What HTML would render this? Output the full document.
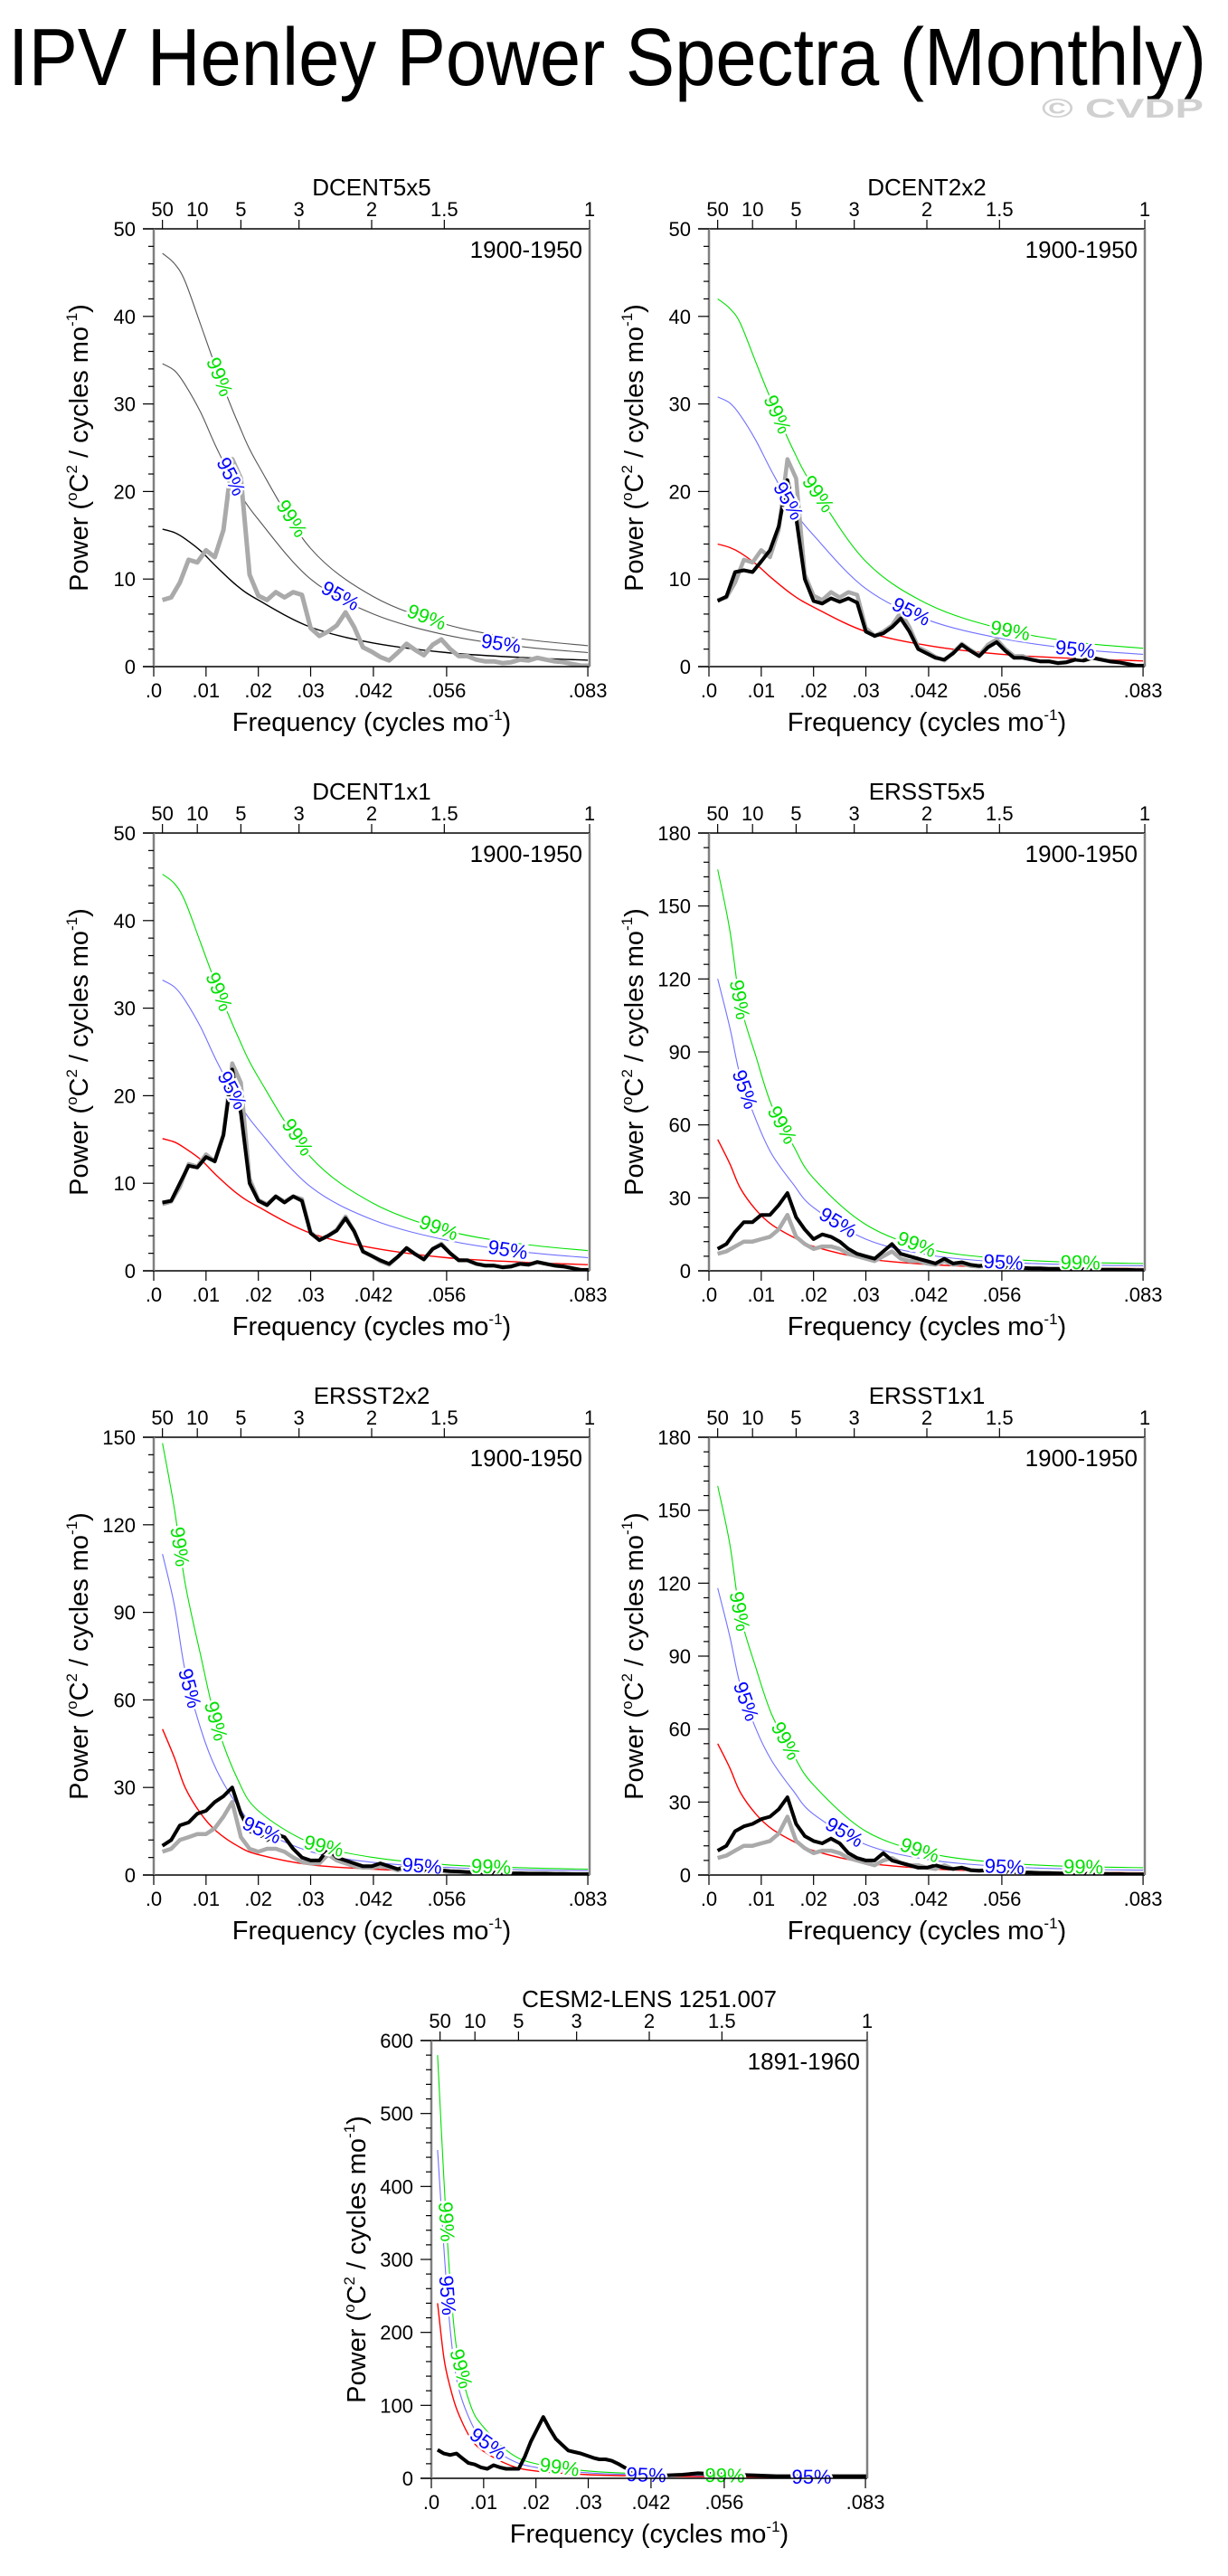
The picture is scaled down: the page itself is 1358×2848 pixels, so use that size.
<!DOCTYPE html>
<html><head><meta charset="utf-8"><title>IPV Henley Power Spectra (Monthly)</title>
<style>html,body{margin:0;padding:0;background:#fff}svg{display:block}text{font-family:"Liberation Sans",sans-serif}</style>
</head><body>
<svg id="fig" xmlns="http://www.w3.org/2000/svg" width="1358" height="2848" viewBox="0 0 1358 2848">
<rect width="1358" height="2848" fill="#fff"/>
<text x="9" y="94" font-size="90" textLength="1325" lengthAdjust="spacingAndGlyphs">IPV Henley Power Spectra (Monthly)</text>
<text x="1152" y="130" font-size="30" font-weight="bold" fill="#d0d0d0" textLength="179" lengthAdjust="spacingAndGlyphs">© CVDP</text>
</svg>
<script>
// ---- shared ----
const curveFreq = [0.00167,0.004,0.006,0.009,0.012,0.016,0.02,0.03,0.042,0.056,0.07,0.083];
const bottomTickVals = [0,0.01,0.02,0.03,0.042,0.056,0.083];
const bottomTickLabels = [".0",".01",".02",".03",".042",".056",".083"];
const topPeriods = [50,10,5,3,2,1.5,1];
const topPeriodLabels = ["50","10","5","3","2","1.5","1"];
const specStep = 1/600;
// ---- panel 1 DCENT5x5 ----
const p1Red = [15.7,15.3,14.6,13.2,11.4,9.2,7.6,4.5,2.7,1.6,1.05,0.73];
const p1C95 = [34.6,33.8,32.2,29,25,20.3,16.8,10,6,3.6,2.3,1.6];
const p1C99 = [47.2,46,44,39,34,28,23,13.5,8,4.8,3.2,2.4];
const p1Grey = [7.6,7.9,9.6,12.2,11.9,13.3,12.5,15.6,23.7,21.5,10.5,8.1,7.6,8.5,7.9,8.5,8.2,4.4,3.5,4.0,4.7,6.2,4.5,2.2,1.7,1.1,0.7,1.6,2.6,1.9,1.3,2.5,3.1,2.0,1.2,1.2,0.8,0.6,0.6,0.4,0.5,0.8,0.7,1.0,0.8,0.6,0.5,0.3,0.1,0.1];
const p1Black = [];
// ---- panel 2 DCENT2x2 ----
const p2Red = [14,13.6,13,11.7,10.1,8.2,6.8,4,2.4,1.4,0.93,0.65];
const p2C95 = [30.8,30.1,28.7,25.8,22.3,18.1,15,8.9,5.3,3.2,2.0,1.4];
const p2C99 = [42,40.9,39.2,34.7,30.3,24.9,20.5,12,7.1,4.3,2.8,2.1];
const p2Grey = p1Grey;
const p2Black = [7.5,8,10.8,11,10.8,12,13.3,16,21.3,17,10,7.5,7.2,7.8,7.4,7.8,7.3,4,3.5,3.8,4.5,5.5,4,2,1.5,1,0.8,1.5,2.5,1.8,1.2,2.2,2.8,1.8,1,1,0.8,0.6,0.6,0.4,0.5,0.8,0.7,1,0.8,0.6,0.5,0.3,0.1,0.1];
// ---- panel 3 DCENT1x1 ----
const p3Red = [15.1,14.7,14,12.7,10.9,8.8,7.3,4.3,2.6,1.5,1,0.7];
const p3C95 = [33.2,32.4,30.9,27.8,24,19.5,16.1,9.6,5.8,3.5,2.2,1.5];
const p3C99 = [45.3,44.2,42.2,37.4,32.6,26.9,22.1,13,7.7,4.6,3.1,2.3];
const p3Grey = p1Grey;
const p3Black = [7.8,8,10,12,11.8,13,12.5,15.5,23,18,10,8,7.5,8.5,7.8,8.5,8,4.3,3.5,4,4.6,6,4.5,2.2,1.7,1.2,0.8,1.6,2.6,1.9,1.3,2.5,3,2,1.2,1.2,0.8,0.6,0.6,0.4,0.5,0.8,0.7,1,0.8,0.6,0.5,0.3,0.1,0.1];
// ---- panel 4 ERSST5x5 ----
const p4Red = [54,44,34,25,19,14,10,5,2.6,1.5,1.1,0.9];
const p4C95 = [120,100,80,62,48,36,26,13,6.5,3.6,2.5,2.1];
const p4C99 = [165,140,110,88,68,52,38,19,9,5,3.5,3];
const p4Grey = [7,8,10,12,12,13,14,17,23,14,11,9,10,10,9,7,6,5,4,6,8,5,4,4,3,2.5,4,2.5,3,2,1.8,2,1.6,1.2,1.2,1,0.9,0.8,0.7,0.7,0.6,0.5,0.5,0.4,0.4,0.4,0.3,0.3,0.3,0.2];
const p4Black = [9,11,16,20,20,23,23,27,32,22,17,13,15,14,12,9,7,6,5,8,11,7,6,5,4,3,5,3,3.5,2.5,2,2.5,2,1.5,1.5,1.2,1,1,0.8,0.8,0.7,0.6,0.6,0.5,0.5,0.5,0.4,0.4,0.3,0.3];
// ---- panel 5 ERSST2x2 ----
const p5Red = [50,40,30,21,15,10,7,3.5,2,1.2,0.8,0.7];
const p5C95 = [110,92,70,50,36,24,16,8,4.3,2.6,1.8,1.5];
const p5C99 = [148,125,100,75,52,33,22,11,6,3.5,2.5,2];
const p5Grey = [8,9,12,13,14,14,16,20,25,13,9,8,9,9,8,6,4.5,4,4,7,5,4,3,2.5,2.5,3,2.5,1.6,2.5,1.6,1.5,1.6,1.3,1,1,0.8,0.8,0.7,0.6,0.6,0.5,0.5,0.4,0.4,0.4,0.3,0.3,0.3,0.2,0.2];
const p5Black = [10,12,17,18,21,22,25,27,30,21,15,14,12,14,13,9,6,5,5,9,6,5,4,3,3,4,3,2,3,2,1.8,2,1.6,1.3,1.2,1,1,0.8,0.8,0.7,0.6,0.6,0.5,0.5,0.5,0.4,0.4,0.3,0.3,0.3];
// ---- panel 6 ERSST1x1 ----
const p6Red = [54,44,34,25,19,14,10,5,2.6,1.5,1.1,0.9];
const p6C95 = [118,98,78,60,47,35,25,12.5,6.3,3.5,2.4,2.0];
const p6C99 = [160,136,107,85,66,50,37,18,9,5,3.5,3];
const p6Grey = [7,8,10,12,12,13,14,17,24,14,11,9,10,10,9,7,6,5,4,6,7,5,4,4,3,2.5,4,2.5,3,2,1.8,2,1.6,1.2,1.2,1,0.9,0.8,0.7,0.7,0.6,0.5,0.5,0.4,0.4,0.4,0.3,0.3,0.3,0.2];
const p6Black = [10,12,18,20,21,23,24,27,32,21,16,14,13,15,13,9,7,6,6,9,6,5,4,3,3,4,3,2.5,3,2,1.8,2,1.6,1.3,1.2,1,1,0.8,0.8,0.7,0.6,0.6,0.5,0.5,0.5,0.4,0.4,0.3,0.3,0.3];
// ---- panel 7 CESM2-LENS ----
const p7CurveFreq = [0.0012,0.0024,0.0036,0.005,0.0075,0.01,0.015,0.02,0.03,0.042,0.056,0.07,0.083];
const p7Red = [240,165,125,92,55,37,18,10,5,3,2,1.4,1.2];
const p7C95 = [450,315,205,130,78,52,26,15,7.5,4.5,3,2.2,1.8];
const p7C99 = [580,410,270,170,100,70,35,20,10,6,4,3,2.5];
const p7SpecFreq = [0.0012,0.0024,0.0036,0.0048,0.006,0.0071,0.0083,0.0095,0.0107,0.0119,0.0131,0.0143,0.0155,0.0167,0.0179,0.019,0.0202,0.0214,0.0226,0.0238,0.025,0.0262,0.0274,0.0286,0.0298,0.031,0.0321,0.0333,0.0345,0.0357,0.0369,0.0381,0.0393,0.0405,0.042,0.045,0.048,0.051,0.054,0.058,0.062,0.066,0.07,0.074,0.078,0.0833];
const p7Black = [39,34,32,34,27,21,19,15,13,18,15,13,13,13,30,50,67,84,68,54,46,38,36,34,31,28,26,26,24,20,15,11,8,6,5,4,5,7,6,5,4,3,3,3,3,3];
// label placements [curve, frequency]
const p1Labels = [["99",0.0126],["95",0.0148],["99",0.0264],["95",0.0357],["99",0.0522],["95",0.0664]];
const p2Labels = [["99",0.0131],["95",0.0152],["99",0.0209],["95",0.0387],["99",0.0576],["95",0.070]];
const p3Labels = [["99",0.0125],["95",0.015],["99",0.0275],["99",0.0545],["95",0.0677]];
const p4Labels = [["99",0.0059],["95",0.0069],["99",0.014],["95",0.0247],["99",0.0397],["95",0.0563],["99",0.071]];
const p5Labels = [["99",0.005],["95",0.0069],["99",0.0119],["95",0.0207],["99",0.0325],["95",0.0513],["99",0.0645]];
const p6Labels = [["99",0.0059],["95",0.0071],["99",0.0147],["95",0.0259],["99",0.0403],["95",0.0565],["99",0.0716]];
const p7Labels = [["99",0.0029],["95",0.0031],["99",0.0057],["95",0.0109],["99",0.0245],["95",0.0411],["99",0.0561],["95",0.0727]];

const NS = "http://www.w3.org/2000/svg";
const svg = document.getElementById('fig');
const FMAX = 1/12, PW = 482, PH = 484;
function mk(tag, attrs, parent){ const e=document.createElementNS(NS,tag); for(const k in attrs) e.setAttribute(k,attrs[k]); (parent||svg).appendChild(e); return e; }

const panels = [
 {id:'dcent5x5', title:'DCENT5x5', L:170, T:253, ymax:50, major:10, minor:2, period:'1900-1950', cf:curveFreq, red:p1Red, c95:p1C95, c99:p1C99, grey:p1Grey, black:p1Black, labels:p1Labels, mono:true},
 {id:'dcent2x2', title:'DCENT2x2', L:784, T:253, ymax:50, major:10, minor:2, period:'1900-1950', cf:curveFreq, red:p2Red, c95:p2C95, c99:p2C99, grey:p2Grey, black:p2Black, labels:p2Labels},
 {id:'dcent1x1', title:'DCENT1x1', L:170, T:921, ymax:50, major:10, minor:2, period:'1900-1950', cf:curveFreq, red:p3Red, c95:p3C95, c99:p3C99, grey:p3Grey, black:p3Black, labels:p3Labels},
 {id:'ersst5x5', title:'ERSST5x5', L:784, T:921, ymax:180, major:30, minor:6, period:'1900-1950', cf:curveFreq, red:p4Red, c95:p4C95, c99:p4C99, grey:p4Grey, black:p4Black, labels:p4Labels},
 {id:'ersst2x2', title:'ERSST2x2', L:170, T:1589, ymax:150, major:30, minor:6, period:'1900-1950', cf:curveFreq, red:p5Red, c95:p5C95, c99:p5C99, grey:p5Grey, black:p5Black, labels:p5Labels},
 {id:'ersst1x1', title:'ERSST1x1', L:784, T:1589, ymax:180, major:30, minor:6, period:'1900-1950', cf:curveFreq, red:p6Red, c95:p6C95, c99:p6C99, grey:p6Grey, black:p6Black, labels:p6Labels},
 {id:'cesm2', title:'CESM2-LENS 1251.007', L:477, T:2256, ymax:600, major:100, minor:20, period:'1891-1960', cf:p7CurveFreq, red:p7Red, c95:p7C95, c99:p7C99, grey:[], black:p7Black, blackFreq:p7SpecFreq, labels:p7Labels}
];

function smoothPath(pts){
  let d='M'+pts[0][0].toFixed(1)+','+pts[0][1].toFixed(1);
  for(let i=0;i<pts.length-1;i++){
    const p0=pts[Math.max(0,i-1)],p1=pts[i],p2=pts[i+1],p3=pts[Math.min(pts.length-1,i+2)];
    const c1=[p1[0]+(p2[0]-p0[0])/6,p1[1]+(p2[1]-p0[1])/6], c2=[p2[0]-(p3[0]-p1[0])/6,p2[1]-(p3[1]-p1[1])/6];
    d+='C'+c1[0].toFixed(1)+','+c1[1].toFixed(1)+' '+c2[0].toFixed(1)+','+c2[1].toFixed(1)+' '+p2[0].toFixed(1)+','+p2[1].toFixed(1);
  }
  return d;
}
function interp(fs, vs, f){
  if(f<=fs[0]) return vs[0];
  for(let i=0;i<fs.length-1;i++) if(f<=fs[i+1]){ const t=(f-fs[i])/(fs[i+1]-fs[i]); return vs[i]+t*(vs[i+1]-vs[i]); }
  return vs[vs.length-1];
}

panels.forEach((p)=>{
  const g = mk('g',{});
  
  
  const L=p.L, T=p.T, R=L+PW, B=T+PH;
  const xs = f => L + f/FMAX*PW;
  const ys = v => B - v/p.ymax*PH;
  const clipId='clip-'+p.id;
  const cp = mk('clipPath',{id:clipId},g); mk('rect',{x:L,y:T,width:PW,height:PH},cp);
  const plot = mk('g',{'clip-path':'url(#'+clipId+')'},g);
  
  
  const cols = p.mono ? {c99:'#555',c95:'#555',red:'#000'} : {c99:'#00e000',c95:'#7070ff',red:'#ff0000'};
  [['c99',p.c99],['c95',p.c95],['red',p.red]].forEach(([k,vals])=>{
    const pts = p.cf.map((f,i)=>[xs(f),ys(vals[i])]);
    const path = mk('path',{d:smoothPath(pts),fill:'none',stroke:cols[k],'stroke-width':k==='red'?1.4:1.1},plot);
    
    
  });
  if(p.grey.length){
    const pts = p.grey.map((v,i)=>xs((i+1)*specStep).toFixed(1)+','+ys(v).toFixed(1)).join(' ');
    const pl = mk('polyline',{points:pts,fill:'none',stroke:'#aaaaaa','stroke-width':p.mono?5:4.5,'stroke-linejoin':'round'},plot);
    
    
  }
  if(p.black.length){
    const fr = p.blackFreq || p.black.map((v,i)=>(i+1)*specStep);
    const pts = p.black.map((v,i)=>xs(fr[i]).toFixed(1)+','+ys(v).toFixed(1)).join(' ');
    const pl = mk('polyline',{points:pts,fill:'none',stroke:'#000','stroke-width':4,'stroke-linejoin':'round'},plot);
    
    
  }
  // curve labels
  p.labels.forEach(([c,f])=>{
    const vals = c==='99'?p.c99:p.c95;
    const x = xs(f), y = ys(interp(p.cf,vals,f));
    const dx = xs(f+0.0006)-xs(f-0.0006), dy = ys(interp(p.cf,vals,f+0.0006))-ys(interp(p.cf,vals,f-0.0006));
    const ang = Math.atan2(dy,dx)*180/Math.PI;
    const t = mk('text',{x:0,y:0,transform:'translate('+x.toFixed(1)+','+y.toFixed(1)+') rotate('+ang.toFixed(1)+')','font-size':22,'text-anchor':'middle','dominant-baseline':'central',fill:c==='99'?'#00e000':'#0000ff',stroke:'#fff','stroke-width':5,'paint-order':'stroke'},g);
    t.textContent = c+'%';
    
    
  });
  // axes
  mk('line',{x1:L-12,y1:T,x2:R,y2:T,stroke:'#000','stroke-width':1.5},g);
  mk('line',{x1:L-12,y1:B,x2:R,y2:B,stroke:'#000','stroke-width':1.5},g);
  mk('line',{x1:L,y1:T,x2:L,y2:B,stroke:'#808080','stroke-width':2.5},g);
  mk('line',{x1:R,y1:T,x2:R,y2:B,stroke:'#808080','stroke-width':2.5},g);
  // y ticks
  for(let v=0; v<=p.ymax+1e-9; v+=p.minor){
    const isMaj = Math.abs(v/p.major-Math.round(v/p.major))<1e-6;
    mk('line',{x1:L-(isMaj?12:6),y1:ys(v),x2:L,y2:ys(v),stroke:'#000','stroke-width':1.2},g);
    if(isMaj){
      const t=mk('text',{x:L-20,y:ys(v)+8,'font-size':22,'text-anchor':'end'},g);
      t.textContent=String(Math.round(v));
      
      
    }
  }
  // bottom ticks
  bottomTickVals.forEach((f,i)=>{
    mk('line',{x1:xs(f),y1:B,x2:xs(f),y2:B+11,stroke:'#000','stroke-width':1.2},g);
    const t=mk('text',{x:xs(f),y:B+34,'font-size':22,'text-anchor':'middle'},g);
    t.textContent=bottomTickLabels[i];
    
    
  });
  // top ticks (period in years)
  topPeriods.forEach((per,i)=>{
    const f=1/(per*12);
    mk('line',{x1:xs(f),y1:T-10,x2:xs(f),y2:T,stroke:'#000','stroke-width':1.2},g);
    const t=mk('text',{x:xs(f),y:T-14,'font-size':22,'text-anchor':'middle'},g);
    t.textContent=topPeriodLabels[i];
    
    
  });
  const tt=mk('text',{x:L+PW/2,y:T-37,'font-size':26,'text-anchor':'middle'},g);
  tt.textContent=p.title;
  
  
  const pr=mk('text',{x:R-8,y:T+32,'font-size':26,'text-anchor':'end'},g);
  pr.textContent=p.period;
  
  
  // x title
  const xt=mk('text',{x:L+PW/2,y:B+71,'font-size':29,'text-anchor':'middle'},g);
  xt.innerHTML='Frequency (cycles mo<tspan font-size="17" dy="-12">-1</tspan><tspan dy="12">)</tspan>';
  
  
  // y title
  const cy=T+PH/2, cx=L-73;
  const yt=mk('text',{x:0,y:0,transform:'translate('+cx+','+cy+') rotate(-90)','font-size':29,'text-anchor':'middle'},g);
  yt.innerHTML='Power (<tspan font-size="17" dy="-12">o</tspan><tspan dy="12">C</tspan><tspan font-size="17" dy="-12">2</tspan><tspan dy="12"> / cycles mo</tspan><tspan font-size="17" dy="-12">-1</tspan><tspan dy="12">)</tspan>';
  
  
});
</script>
</body></html>
